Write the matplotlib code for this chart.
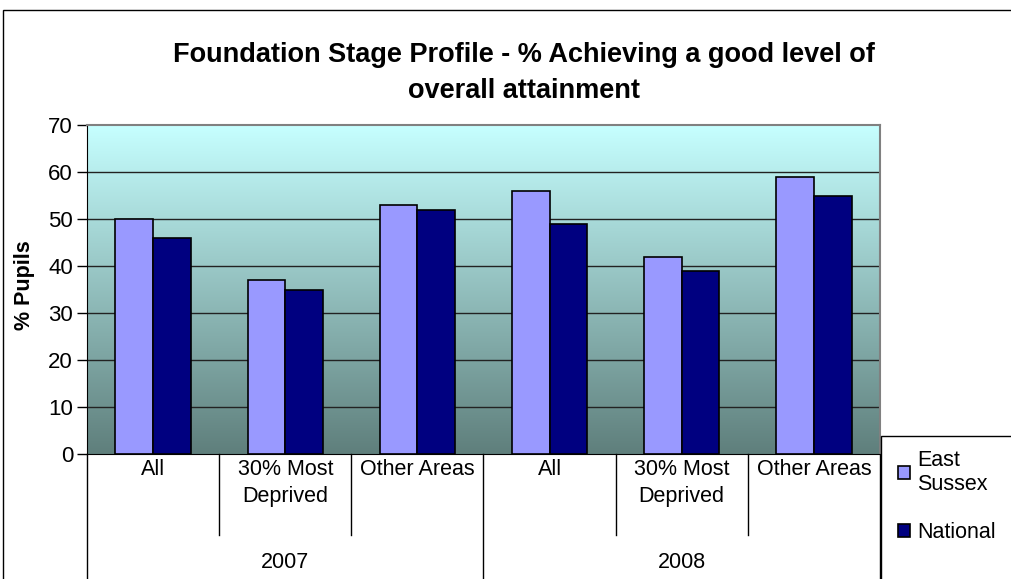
import numpy as np
import matplotlib.pyplot as plt
from matplotlib.colors import LinearSegmentedColormap
from matplotlib.patches import Rectangle

plt.rcParams['font.family'] = ['Liberation Sans', 'DejaVu Sans']

# Datos
years = ["2007", "2008"]
areas = ["All", "30% Most\nDeprived", "Other Areas"]
east_sussex = [50, 37, 53, 56, 42, 59]
national = [46, 35, 52, 49, 39, 55]

fig = plt.figure(figsize=(10.12, 5.79), dpi=100)
W, H = 1012, 579
ax = fig.add_axes([87 / W, 1 - 454 / H, 793 / W, 329 / H])

# Fondo degradado
cmap = LinearSegmentedColormap.from_list("fondo", ["#5F7F7C", "#C6FFFF"])
grad = np.linspace(0, 1, 256).reshape(-1, 1)
ax.imshow(grad, cmap=cmap, origin="lower", aspect="auto",
          extent=[-0.5, 5.5, 0, 70], zorder=0)

n = len(east_sussex)
x = np.arange(n)
bw = 0.285
ax.bar(x - bw / 2, east_sussex, bw, color="#9999FF", edgecolor="black",
       linewidth=1.2, label="East\nSussex", zorder=3)
ax.bar(x + bw / 2, national, bw, color="#000080", edgecolor="black",
       linewidth=1.2, label="National", zorder=3)

ax.set_xlim(-0.5, 5.5)
ax.set_ylim(0, 70)
ax.set_yticks(range(0, 71, 10))
for v in range(10, 70, 10):
    ax.axhline(v, color="#222222", linewidth=1, zorder=1)
ax.tick_params(axis="y", labelsize=16, length=7, width=1, pad=3)
ax.set_xticks([])
for s in ["left", "bottom"]:
    ax.spines[s].set_color("black")
for s in ["top", "right"]:
    ax.spines[s].set_color("#808080")
    ax.spines[s].set_linewidth(1.5)

# Etiquetas de categorías
for i in range(n):
    ax.text(i, -0.014, areas[i % 3], transform=ax.get_xaxis_transform(),
            ha="center", va="top", fontsize=15.5, linespacing=1.4)
for j, yr in enumerate(years):
    ax.text(1 + 3 * j, -0.33, yr, transform=ax.get_xaxis_transform(),
            ha="center", va="center", fontsize=15.5)

# Separadores
for b in np.arange(-0.5, 6, 1):
    bottom = -0.39 if b in (-0.5, 2.5, 5.5) else -0.245
    ax.plot([b, b], [0, bottom], transform=ax.get_xaxis_transform(),
            color="black", linewidth=1, clip_on=False)

# Títulos
fig.text(524 / W, 1 - 72.5 / H, "Foundation Stage Profile - % Achieving a good level of\noverall attainment",
         ha="center", va="center", fontsize=19.5, fontweight="bold", linespacing=1.5)
fig.text(25 / W, 1 - 285 / H, "% Pupils", rotation=90, ha="center", va="center",
         fontsize=15.5, fontweight="bold")

# Marco exterior y leyenda
fig.patches.append(Rectangle((3 / W, -0.1), 1.2, 1 - 10 / H + 0.1, transform=fig.transFigure,
                             fill=False, edgecolor="black", linewidth=1))
fig.patches.append(Rectangle((881 / W, -0.1), 0.3, 1 - 436 / H + 0.1, transform=fig.transFigure,
                             fill=False, edgecolor="black", linewidth=1))
fig.legend(loc="upper left", bbox_to_anchor=(898 / W, 1 - 450 / H), frameon=False,
           fontsize=15.5, handlelength=0.55, handleheight=0.55, handletextpad=0.35,
           labelspacing=1.25, borderaxespad=0, borderpad=0)

fig.savefig("out.png", dpi=100)
